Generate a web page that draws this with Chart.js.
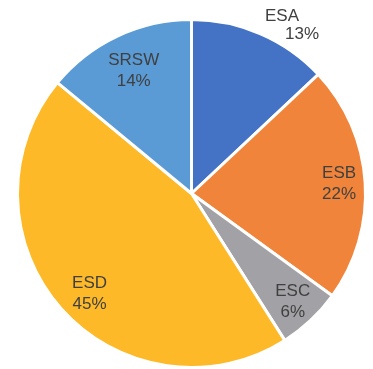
<!DOCTYPE html>
<html>
<head>
<meta charset="utf-8">
<script src="https://cdn.jsdelivr.net/npm/chart.js@4.4.0/dist/chart.umd.min.js"></script>
<style>
  html, body { margin: 0; padding: 0; background: #fff; }
  #wrap { width: 373px; height: 369px; }
</style>
</head>
<body>
<div id="wrap"><canvas id="pieChart" width="373" height="369"></canvas></div>
<script>
/* ===============================
   DATA
================================ */
const categories = ["ESA", "ESB", "ESC", "ESD", "SRSW"];
const shares = [13, 22, 6, 45, 14]; // percent
const sliceColors = ["#4472C4", "#F0843A", "#A2A2A6", "#FDB928", "#5A9AD5"];

// label placement: distance as fraction of radius, extra turn (deg), per-line offsets
const labelPlacement = [
  { dist: 1.125, turn: 7.5, lines: [[-10, -9], [10, 9]] },
  { dist: 0.85, turn: 0 },
  { dist: 0.85, turn: 0 },
  { dist: 0.82, turn: -3 },
  { dist: 0.78, turn: 0 }
];

/* ===============================
   SLICE LABELS
================================ */
const sliceLabels = {
  id: "sliceLabels",
  afterDatasetsDraw(chart) {
    const ctx = chart.ctx;
    const arcs = chart.getDatasetMeta(0).data;
    ctx.save();
    ctx.font = "17px 'Liberation Sans', Arial, sans-serif";
    ctx.fillStyle = "#404040";
    ctx.textAlign = "center";
    ctx.textBaseline = "middle";
    arcs.forEach((arc, i) => {
      const p = labelPlacement[i];
      const mid = (arc.startAngle + arc.endAngle) / 2 + p.turn * Math.PI / 180;
      const r = arc.outerRadius * p.dist;
      const cx = arc.x + Math.cos(mid) * r;
      const cy = arc.y + Math.sin(mid) * r;
      const text = [categories[i], shares[i] + "%"];
      const offs = p.lines || [[0, -10.5], [0, 10.5]];
      text.forEach((t, k) => ctx.fillText(t, cx + offs[k][0], cy + offs[k][1]));
    });
    ctx.restore();
  }
};

/* ===============================
   CHART
================================ */
new Chart(document.getElementById("pieChart"), {
  type: "pie",
  data: {
    labels: categories,
    datasets: [{
      data: shares,
      backgroundColor: sliceColors,
      borderColor: "#ffffff",
      borderWidth: 3
    }]
  },
  options: {
    responsive: false,
    animation: false,
    layout: { padding: { left: 16, top: 18, right: 6, bottom: 0 } },
    plugins: {
      legend: { display: false },
      tooltip: { enabled: false }
    }
  },
  plugins: [sliceLabels]
});
</script>
</body>
</html>
